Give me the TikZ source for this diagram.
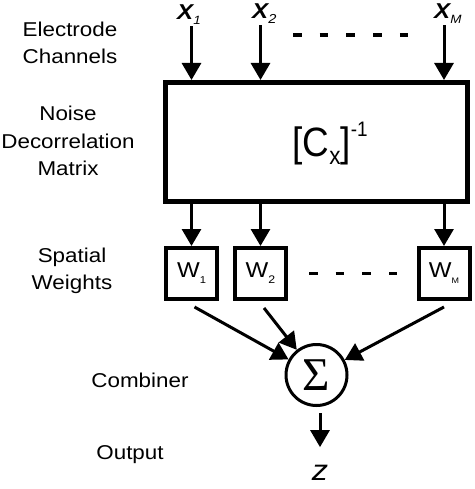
\documentclass[tikz,border=0pt]{standalone}
\usepackage{fontspec}
\setmainfont{Liberation Sans}[FakeStretch=1.12]
\newfontfamily\sigmafont{Liberation Serif}
\newfontfamily\narrowfont{Liberation Sans}[FakeStretch=0.9]
\usetikzlibrary{arrows.meta}

\tikzset{
    side/.style={align=center, font=\fontsize{20}{27.5}\selectfont},
    arr/.style={line width=3pt, -{Triangle[width=19pt,length=17pt]}},
    wbox/.style={draw, line width=4pt, minimum size=51pt, inner sep=0pt,
        font=\fontsize{21.5}{21.5}\selectfont},
    xlab/.style={anchor=base west, inner sep=0pt,
        font=\fontsize{21.5}{21.5}\selectfont\bfseries\itshape},
    dots/.style={line width=3.5pt, dash pattern=on 8.5pt off 18.2pt},
}

\begin{document}
\begin{tikzpicture}[x=1pt,y=-1pt]
    \useasboundingbox (0,0) rectangle (474,489);

    % row labels
    \node[side] (elec)  at (70,43)  {Electrode\\Channels};
    \node[side] (noise) at (68,141) {Noise\\Decorrelation\\Matrix};
    \node[side] (spat)  at (72,271) {Spatial\\Weights};
    \node[side] (comb)  at (140,380) {Combiner};
    \node[side] (outp)  at (130,455) {Output};

    % inputs
    \node[xlab] (x1) at (177,20) {X\raisebox{-5pt}{\fontsize{12}{12}\selectfont\mdseries 1}};
    \node[xlab] (x2) at (252,19) {X\raisebox{-5pt}{\fontsize{13}{13}\selectfont\mdseries 2}};
    \node[xlab] (xm) at (434,19) {X\raisebox{-5pt}{\fontsize{12}{12}\selectfont\mdseries M}};
    \draw[dots] (293,35)--(410,35);

    % matrix
    \node[draw, line width=5pt, minimum width=302pt, minimum height=119pt] (mat) at (316.5,142) {};
    \node (cx) at (330,144) {\narrowfont\fontsize{41}{41}\selectfont
        [C\raisebox{-8pt}{\fontsize{25}{25}\selectfont x}]\raisebox{20pt}{\fontsize{21}{21}\selectfont -1}};

    % weights
    \node[wbox] (w1) at (191.5,273.5) {W\raisebox{-6pt}{\fontsize{10}{10}\selectfont 1}};
    \node[wbox] (w2) at (260.5,273.5) {W\raisebox{-6pt}{\fontsize{11}{11}\selectfont 2}};
    \node[wbox] (wm) at (444,273.5)   {W\raisebox{-6pt}{\fontsize{8}{8}\selectfont M}};
    \draw[dots, shorten <=21pt, shorten >=20pt] (w2.east)--(wm.west);

    % combiner and output
    \node[draw, circle, line width=3pt, minimum size=61pt, inner sep=0pt,
        font=\sigmafont\fontsize{47}{47}\selectfont] (sum) at (316.5,375) {Σ};
    \node[inner sep=0pt, font=\fontsize{29}{29}\selectfont\itshape] (z) at (320,473) {z};

    \draw[arr, shorten <=1pt] (x1.south -| w1) -- (mat.north -| w1);
    \draw[arr, shorten <=1pt] (x2.south -| w2) -- (mat.north -| w2);
    \draw[arr, shorten <=1pt] (xm.south -| wm) -- (mat.north -| wm);
    \draw[arr] (mat.south -| w1) -- (w1.north);
    \draw[arr] (mat.south -| w2) -- (w2.north);
    \draw[arr] (mat.south -| wm) -- (wm.north);
    \draw[arr] ([shift={(3,6)}]w1.south) -- (sum);
    \draw[arr] ([shift={(3.5,7)}]w2.south) -- (sum);
    \draw[arr] ([shift={(0,6)}]wm.south) -- (sum);
    \draw[arr, shorten <=6pt, shorten >=18pt] (sum.south -| z) -- (z.north);
\end{tikzpicture}
\end{document}
